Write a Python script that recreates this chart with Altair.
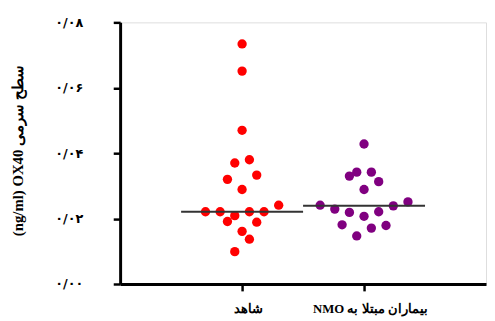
import json
import altair as alt
import pandas as pd

# ---- data ----
groups = ["شاهد", "\u202bبیماران مبتلا به NMO\u202c"]
group_colors = ["#FF0000", "#800080"]

control_values = [0.0734, 0.0651, 0.0470, 0.0370, 0.0380, 0.0320, 0.0333, 0.0289,
                  0.0221, 0.0221, 0.0209, 0.0221, 0.0221, 0.0241, 0.0191, 0.0189,
                  0.0161, 0.0137, 0.0099]
control_slots = [0, 0, 0, -1, 1, -2, 2, 0, -5, -3, -1, 1, 3, 5, -2, 2, 0, 1, -1]

nmo_values = [0.0428, 0.0330, 0.0342, 0.0342, 0.0313, 0.0289, 0.0241, 0.0229,
              0.0219, 0.0207, 0.0221, 0.0239, 0.0251, 0.0181, 0.0171, 0.0179, 0.0147]
nmo_slots = [0, -2, -1, 1, 2, 0, -6, -4, -2, 0, 2, 4, 6, -3, 1, 3, -1]

medians = [0.0221, 0.0239]

y_ticks = [0, 0.02, 0.04, 0.06, 0.08]
y_tick_labels = ["۰/۰۰", "۰/۰۲", "۰/۰۴", "۰/۰۶", "۰/۰۸"]
y_title = "(ng/ml) OX40 سطح سرمی"

# ---- tables ----
rows = []
for v, s in zip(control_values, control_slots):
    rows.append({"g": 1, "group": groups[0], "value": v, "slot": s})
for v, s in zip(nmo_values, nmo_slots):
    rows.append({"g": 2, "group": groups[1], "value": v, "slot": s})
pts = pd.DataFrame(rows)

med = pd.DataFrame({"g": [1, 2], "group": groups, "median": medians})

x_scale = alt.Scale(domain=[0, 3], nice=False, zero=False)
y_scale = alt.Scale(domain=[0, 0.08], nice=False)

x_axis = alt.Axis(
    values=[1, 2],
    labelExpr=f"{json.dumps(groups, ensure_ascii=False)}[round(datum.value) - 1]",
    title=None, grid=False,
    domainColor="black", domainWidth=3,
    tickColor="black", tickWidth=2.5, tickSize=7,
    labelFont="Liberation Serif", labelFontWeight="bold", labelFontSize=13,
    labelColor="black", labelPadding=12, labelFlush=False, labelOffset=6,
)
y_axis = alt.Axis(
    values=y_ticks,
    labelExpr=f"{json.dumps(y_tick_labels, ensure_ascii=False)}[round(datum.value * 50)]",
    title=y_title, grid=False,
    domainColor="black", domainWidth=3,
    tickColor="black", tickWidth=2.5, tickSize=7,
    labelFont="DejaVu Sans", labelFontWeight="bold", labelFontSize=13,
    labelColor="black", labelPadding=31, labelFlush=False,
    titleFont="Liberation Serif", titleFontWeight="bold", titleFontSize=15,
    titleColor="black", titleAngle=-90, titleX=-104, titleY=130,
    titleAlign="center", titleBaseline="middle",
)

points = alt.Chart(pts).transform_calculate(
    xpos="datum.g + datum.slot * 0.06"
).mark_circle(size=90, opacity=1).encode(
    x=alt.X("xpos:Q", scale=x_scale, axis=x_axis),
    y=alt.Y("value:Q", scale=y_scale, axis=y_axis),
    color=alt.Color("group:N", scale=alt.Scale(domain=groups, range=group_colors), legend=None),
)

lines = alt.Chart(med).transform_calculate(
    x1="datum.g - 0.5", x2="datum.g + 0.5"
).mark_rule(color="#333333", strokeWidth=2).encode(
    x=alt.X("x1:Q", scale=x_scale),
    x2="x2:Q",
    y=alt.Y("median:Q", scale=y_scale),
)

chart = alt.layer(points, lines).properties(
    width=372, height=266,
    autosize=alt.AutoSizeParams(type="none"),
    padding={"left": 114, "top": 12, "right": 1, "bottom": 35},
).configure_view(
    stroke="#222222", strokeWidth=2
).configure(background="white")

chart.save("out.html", embed_options={"renderer": "svg", "actions": False})
